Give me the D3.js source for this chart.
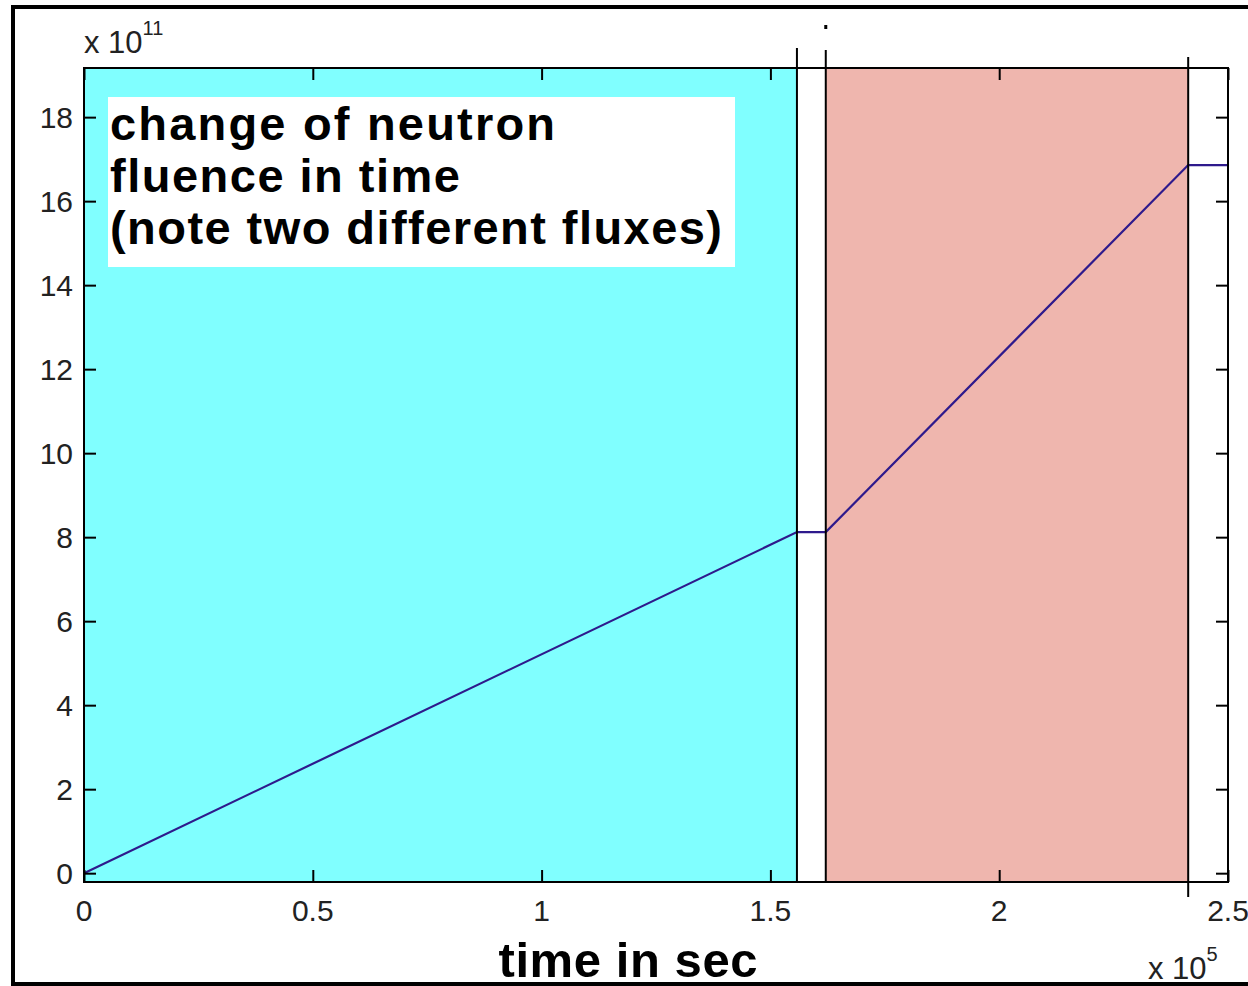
<!DOCTYPE html>
<html>
<head>
<meta charset="utf-8">
<script src="https://cdn.jsdelivr.net/npm/d3@7"></script>
<style>
  html, body { margin: 0; padding: 0; background: #fff; }
  svg { display: block; }
  text { font-family: "Liberation Sans", Arial, sans-serif; }
</style>
</head>
<body>
<svg id="chart" width="1248" height="986"></svg>
<script>
// Neutron fluence accumulated over time (two irradiation phases)
const timeSec   = [0, 1.558e5, 1.621e5, 2.413e5, 2.5e5];
const fluence   = [0, 8.12e11, 8.12e11, 16.86e11, 16.86e11];

// Irradiation phases (start / end of each flux)
const phaseStart = [0, 1.621e5];
const phaseEnd   = [1.558e5, 2.413e5];

// Vertical markers at phase boundaries
const markerTimes = [1.558e5, 1.621e5, 2.413e5];

// Axis ticks
const xTickValues = [0, 0.5e5, 1e5, 1.5e5, 2e5, 2.5e5];
const xTickLabels = ["0", "0.5", "1", "1.5", "2", "2.5"];
const yTickValues = [0, 2e11, 4e11, 6e11, 8e11, 10e11, 12e11, 14e11, 16e11, 18e11];
const yTickLabels = ["0", "2", "4", "6", "8", "10", "12", "14", "16", "18"];

const titleLines = ["change of neutron", "fluence in time", "(note two different fluxes)"];
const titleWidths = [445, 350, 612];

const phaseColors = ["#80ffff", "#efb6ae"];
const lineColor = "#2e1a8c";

const svg = d3.select("#chart");
const W = 1248;
const plot = { left: 84, top: 68, right: 1228, bottom: 882 };

const x = d3.scaleLinear().domain([0, 2.5e5]).range([plot.left, plot.right]);
const y = d3.scaleLinear().domain([-0.21e11, 19.17e11]).range([plot.bottom, plot.top]);

// Outer frame
svg.append("rect").attr("x", 13).attr("y", 7).attr("width", W).attr("height", 977)
  .attr("fill", "#fff").attr("stroke", "#000").attr("stroke-width", 4);

// Phase backgrounds
svg.append("g").selectAll("rect").data(phaseStart).join("rect")
  .attr("x", (d) => x(d))
  .attr("y", plot.top)
  .attr("width", (d, i) => x(phaseEnd[i]) - x(d))
  .attr("height", plot.bottom - plot.top)
  .attr("fill", (d, i) => phaseColors[i]);

// Title box
const tb = svg.append("g");
tb.append("rect").attr("x", 108).attr("y", 97).attr("width", 627).attr("height", 170).attr("fill", "#fff");
tb.selectAll("text").data(titleLines).join("text")
  .attr("x", 110)
  .attr("y", (d, i) => 140 + i * 52)
  .attr("font-size", 47)
  .attr("font-weight", "bold")
  .attr("textLength", (d, i) => titleWidths[i])
  .attr("lengthAdjust", "spacing")
  .attr("fill", "#000")
  .text((d) => d);

// Fluence curve
const line = d3.line().x((d) => x(d[0])).y((d) => y(d[1]));
svg.append("path")
  .datum(timeSec.map((t, i) => [t, fluence[i]]))
  .attr("d", line)
  .attr("fill", "none")
  .attr("stroke", lineColor)
  .attr("stroke-width", 2.2);

// Axes box
svg.append("rect")
  .attr("x", plot.left).attr("y", plot.top)
  .attr("width", plot.right - plot.left).attr("height", plot.bottom - plot.top)
  .attr("fill", "none").attr("stroke", "#000").attr("stroke-width", 2);

// Inward ticks on all four sides
const tickLen = 12;
const axB = d3.axisTop(x).tickValues(xTickValues).tickSize(tickLen).tickFormat("");
const axT = d3.axisBottom(x).tickValues(xTickValues).tickSize(tickLen).tickFormat("");
const axL = d3.axisRight(y).tickValues(yTickValues).tickSize(tickLen).tickFormat("");
const axR = d3.axisLeft(y).tickValues(yTickValues).tickSize(tickLen).tickFormat("");
[[axB, `translate(0,${plot.bottom})`], [axT, `translate(0,${plot.top})`],
 [axL, `translate(${plot.left},0)`], [axR, `translate(${plot.right},0)`]].forEach(([ax, tr]) => {
  const g = svg.append("g").attr("transform", tr).call(ax);
  g.select(".domain").remove();
  g.selectAll(".tick line").attr("stroke", "#000").attr("stroke-width", 2);
});

// Tick labels
svg.append("g").selectAll("text").data(xTickValues).join("text")
  .attr("x", (d) => x(d))
  .attr("y", 921)
  .attr("text-anchor", "middle")
  .attr("font-size", 30)
  .attr("fill", "#222")
  .text((d, i) => xTickLabels[i]);
svg.append("g").selectAll("text").data(yTickValues).join("text")
  .attr("x", 73)
  .attr("y", (d) => y(d) + 11)
  .attr("text-anchor", "end")
  .attr("font-size", 30)
  .attr("fill", "#222")
  .text((d, i) => yTickLabels[i]);

// Phase boundary markers (extend beyond the axes box)
const markerTop = [48, 50, 57];
const markerBottom = [plot.bottom, plot.bottom, 897];
svg.append("g").selectAll("line").data(markerTimes).join("line")
  .attr("x1", (d) => x(d)).attr("x2", (d) => x(d))
  .attr("y1", (d, i) => markerTop[i])
  .attr("y2", (d, i) => markerBottom[i])
  .attr("stroke", "#000").attr("stroke-width", 2);
svg.append("rect").attr("x", x(markerTimes[1]) - 1.5).attr("y", 25).attr("width", 3).attr("height", 4).attr("fill", "#000");

// Exponent labels
const ey = svg.append("text").attr("x", 84).attr("y", 53).attr("font-size", 31).attr("fill", "#222");
ey.append("tspan").text("x 10");
ey.append("tspan").attr("dy", -18).attr("font-size", 20).text("11");
const ex = svg.append("text").attr("x", 1148).attr("y", 979).attr("font-size", 31).attr("fill", "#222");
ex.append("tspan").text("x 10");
ex.append("tspan").attr("dy", -18).attr("font-size", 20).text("5");

// X axis label
svg.append("text")
  .attr("x", 628).attr("y", 977)
  .attr("text-anchor", "middle")
  .attr("font-size", 49)
  .attr("font-weight", "bold")
  .attr("textLength", 259)
  .attr("lengthAdjust", "spacing")
  .attr("fill", "#000")
  .text("time in sec");
</script>
</body>
</html>
